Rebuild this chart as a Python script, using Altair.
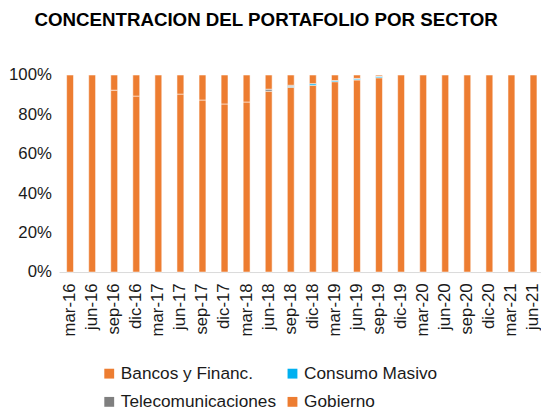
import altair as alt
import pandas as pd

quarters = ["mar-16", "jun-16", "sep-16", "dic-16", "mar-17", "jun-17", "sep-17", "dic-17",
            "mar-18", "jun-18", "sep-18", "dic-18", "mar-19", "jun-19", "sep-19", "dic-19",
            "mar-20", "jun-20", "sep-20", "dic-20", "mar-21", "jun-21"]
bancos = [100, 100, 92.3, 89.3, 100, 90.3, 87.3, 85.3, 86.3, 91.8, 93.8, 94.8, 96.6, 97.5, 98.6,
          100, 100, 100, 100, 100, 100, 100]
consumo = [0, 0, 0, 0, 0, 0, 0, 0, 0, 0, 0.4, 0.8, 0.6, 0.5, 0.6, 0, 0, 0, 0, 0, 0, 0]
telecom = [0, 0, 0, 0, 0, 0, 0, 0, 0, 1.0, 0.6, 0, 0, 0.3, 0.3, 0, 0, 0, 0, 0, 0, 0]
gobierno = [0, 0, 7.7, 10.7, 0, 9.7, 12.7, 14.7, 13.7, 7.2, 5.2, 4.4, 2.8, 1.7, 0.5,
            0, 0, 0, 0, 0, 0, 0]

series_names = ["Bancos y Financ.", "Consumo Masivo", "Telecomunicaciones", "Gobierno"]
series_colors = ["#ED7D31", "#00B0F0", "#7F7F7F", "#ED7D31"]
series_values = [bancos, consumo, telecom, gobierno]

rows = []
for i, q in enumerate(quarters):
    for k, name in enumerate(series_names):
        v = series_values[k][i]
        if v > 0:
            rows.append({"trimestre": q, "sector": name, "valor": v, "orden": k})
df = pd.DataFrame(rows)

FONT = "Liberation Sans"

chart = alt.Chart(df).mark_bar(
    size=7, stroke="white", strokeOpacity=0.55, strokeWidth=1
).encode(
    x=alt.X(
        "trimestre:N", sort=quarters,
        scale=alt.Scale(range=[-7.2, 485.6], paddingInner=0, paddingOuter=0, round=False),
        axis=alt.Axis(title=None, labelAngle=-90, ticks=False, labelPadding=11,
                      labelFont=FONT, labelFontSize=17, labelColor="#1a1a1a",
                      domainColor="#D9D9D9", domainWidth=1, grid=False),
    ),
    y=alt.Y(
        "valor:Q", stack="normalize",
        axis=alt.Axis(title=None, format=".0%", values=[0, 0.2, 0.4, 0.6, 0.8, 1.0],
                      ticks=False, domain=False, grid=False, labelPadding=15,
                      labelFont=FONT, labelFontSize=17, labelColor="#1a1a1a"),
    ),
    color=alt.Color(
        "sector:N",
        scale=alt.Scale(domain=series_names, range=series_colors),
        legend=alt.Legend(title=None, orient="none", legendX=35, legendY=294,
                          columns=2, direction="horizontal", columnPadding=7,
                          rowPadding=10, symbolType="square", symbolSize=100,
                          symbolStrokeWidth=0, symbolOpacity=1, labelOffset=3,
                          labelFont=FONT, labelFontSize=17.5, labelColor="#1a1a1a",
                          labelLimit=0, padding=0),
    ),
    order=alt.Order("orden:Q", sort="ascending"),
).properties(
    width=480,
    height=200,
    title=alt.Title("CONCENTRACION DEL PORTAFOLIO POR SECTOR", font=FONT, fontSize=19,
                    fontWeight="bold", color="#000000", anchor="middle", frame="group",
                    dx=-37, offset=37),
    autosize=alt.AutoSizeParams(type="none"),
    padding={"left": 59, "top": 65, "right": 2, "bottom": 137},
).configure_view(stroke=None)

chart.save("out.html", embed_options={"renderer": "svg", "actions": False})
